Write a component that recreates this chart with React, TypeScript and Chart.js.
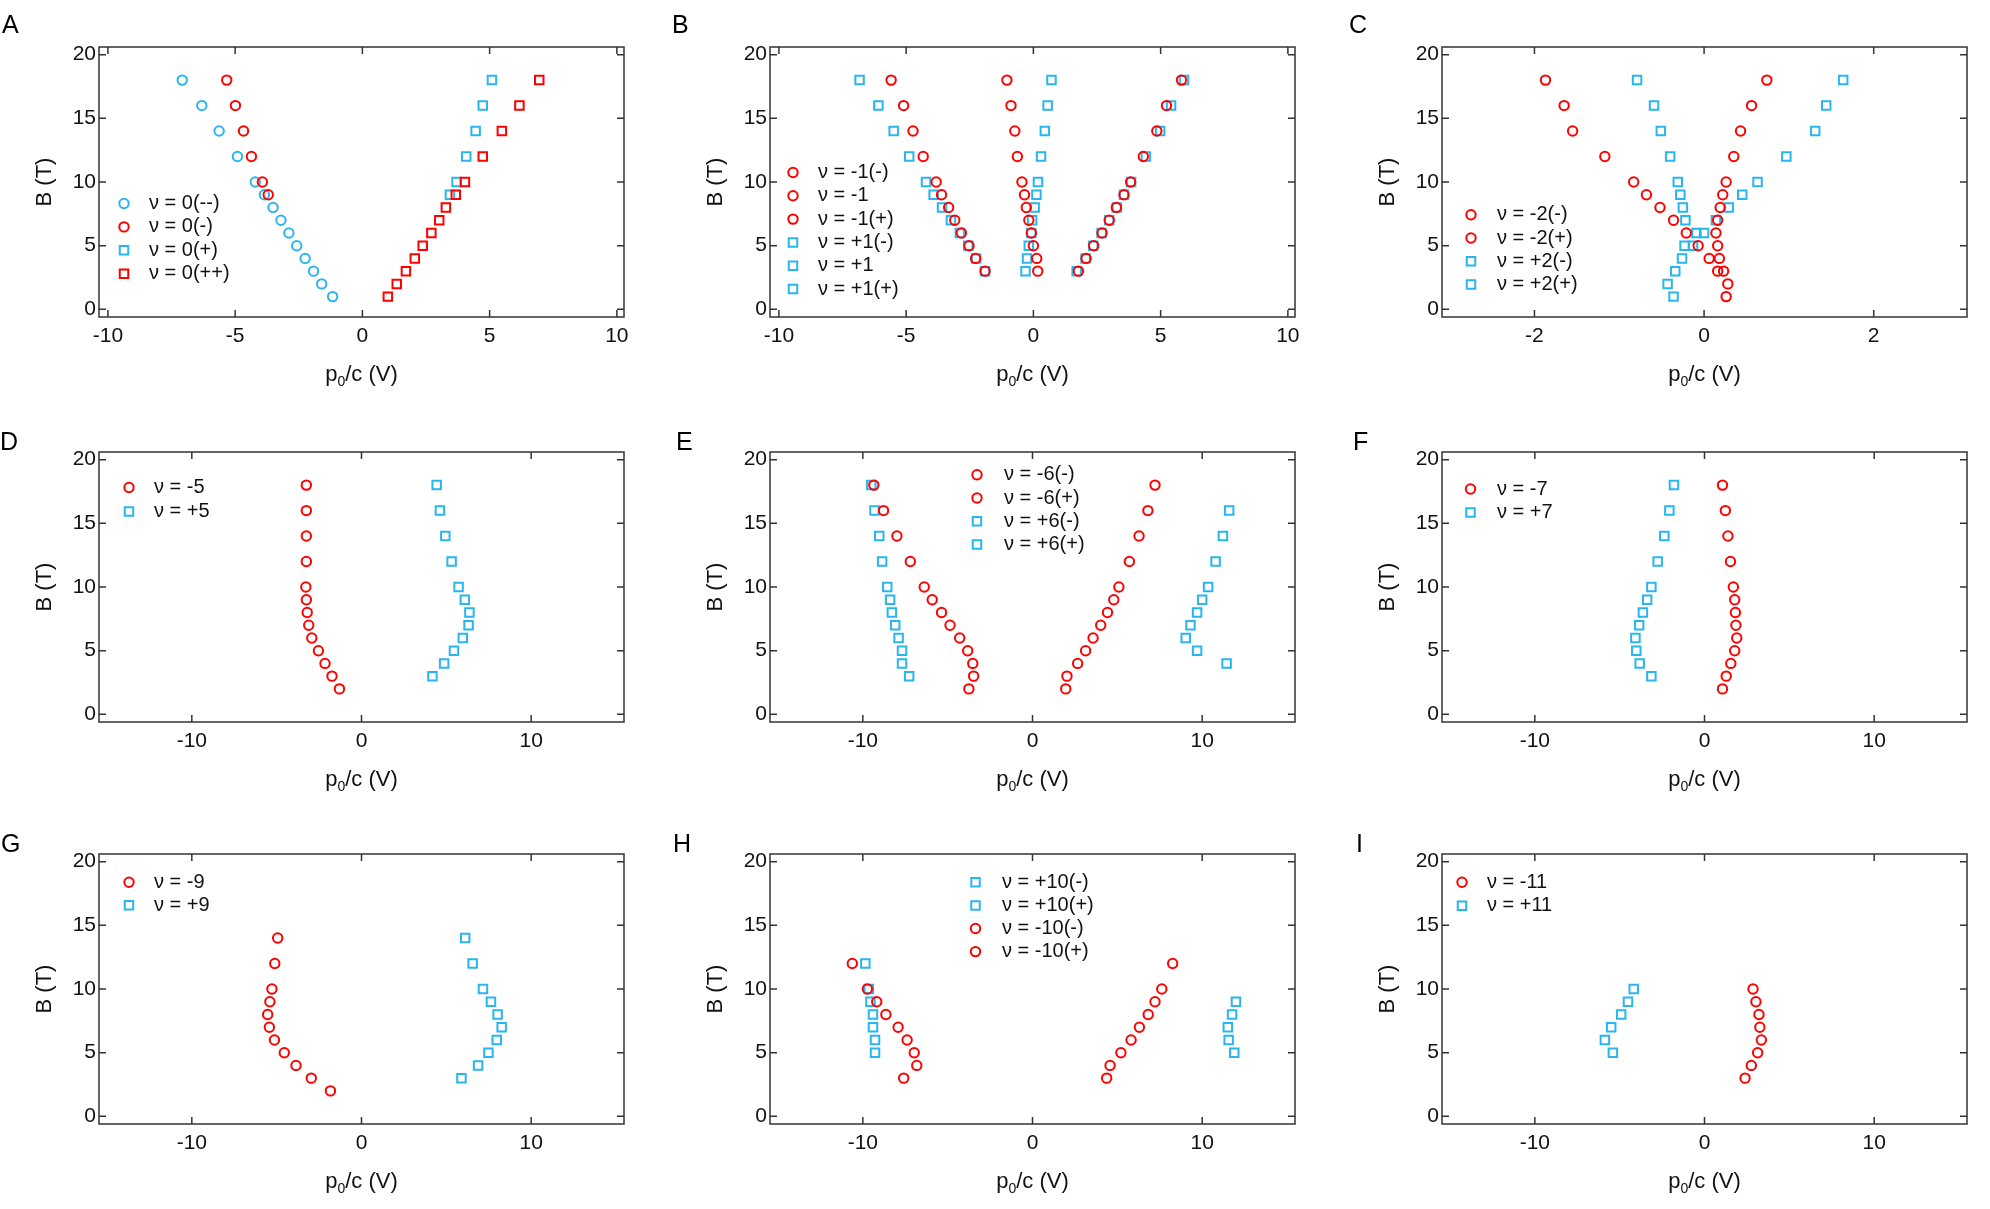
import React, { useEffect, useRef } from 'react';
import { Chart, registerables } from 'chart.js';

Chart.register(...registerables);

const RED = 'rgb(255, 0, 0)';
const BLUE = 'rgb(41, 182, 240)';
const INK = '#111';
const FRAME = '#333';
const FONT = '"Liberation Sans", Arial, Helvetica, sans-serif';

// tick values
const fieldTicks = [0, 5, 10, 15, 20];
const tenTicks = [-10, -5, 0, 5, 10];
const twoTicks = [-2, 0, 2];
const fifteenTicks = [-10, 0, 10];

// A: nu = 0 branches
const aFieldLong = [18, 16, 14, 12, 10, 9, 8, 7, 6, 5, 4, 3, 2, 1];
const aFieldShort = [18, 16, 14, 12, 10, 9];
const aNu0mm = [-7.08, -6.31, -5.63, -4.91, -4.21, -3.85, -3.51, -3.2, -2.89, -2.58, -2.25, -1.92, -1.6, -1.17];
const aNu0m = [-5.33, -4.99, -4.67, -4.36, -3.93, -3.7];
const aNu0p = [5.09, 4.73, 4.45, 4.08, 3.7, 3.44];
const aNu0pp = [6.95, 6.17, 5.48, 4.73, 4.03, 3.67, 3.28, 3.02, 2.71, 2.37, 2.06, 1.71, 1.35, 1.0];

// B: nu = -1, +1
const bField = [18, 16, 14, 12, 10, 9, 8, 7, 6, 5, 4, 3];
const bNuM1m = [-5.59, -5.1, -4.73, -4.33, -3.82, -3.61, -3.33, -3.09, -2.83, -2.53, -2.27, -1.9];
const bNuM1 = [-1.04, -0.88, -0.73, -0.63, -0.45, -0.35, -0.28, -0.18, -0.08, 0.0, 0.13, 0.17];
const bNuM1p = [5.82, 5.23, 4.85, 4.32, 3.82, 3.56, 3.26, 2.98, 2.7, 2.37, 2.07, 1.77];
const bNuP1m = [-6.83, -6.09, -5.49, -4.88, -4.22, -3.92, -3.59, -3.24, -2.89, -2.56, -2.25, -1.9];
const bNuP1 = [0.71, 0.56, 0.45, 0.3, 0.18, 0.12, 0.05, -0.05, -0.08, -0.18, -0.25, -0.31];
const bNuP1p = [5.92, 5.41, 4.98, 4.42, 3.84, 3.56, 3.28, 2.98, 2.68, 2.35, 2.05, 1.7];

// C: nu = -2, +2
const cField12 = [18, 16, 14, 12, 10, 9, 8, 7, 6, 5, 4, 3];
const cField14 = [18, 16, 14, 12, 10, 9, 8, 7, 6, 5, 4, 3, 2, 1];
const cField10 = [18, 16, 14, 12, 10, 9, 8, 7, 6, 5];
const cNuM2m = [-1.87, -1.65, -1.55, -1.17, -0.83, -0.68, -0.52, -0.36, -0.21, -0.07, 0.06, 0.16];
const cNuM2p = [0.74, 0.56, 0.43, 0.35, 0.26, 0.22, 0.19, 0.16, 0.14, 0.16, 0.18, 0.23, 0.28, 0.26];
const cNuP2m = [-0.79, -0.59, -0.51, -0.4, -0.31, -0.28, -0.25, -0.22, -0.09, -0.23, -0.26, -0.34, -0.43, -0.36];
const cNuP2p = [1.64, 1.44, 1.31, 0.97, 0.63, 0.45, 0.29, 0.14, 0.0, -0.13];

// D: nu = -5, +5
const dField13 = [18, 16, 14, 12, 10, 9, 8, 7, 6, 5, 4, 3, 2];
const dField12 = [18, 16, 14, 12, 10, 9, 8, 7, 6, 5, 4, 3];
const dNuM5 = [-3.25, -3.25, -3.25, -3.25, -3.28, -3.25, -3.2, -3.11, -2.93, -2.54, -2.15, -1.74, -1.3];
const dNuP5 = [4.43, 4.62, 4.94, 5.31, 5.72, 6.09, 6.36, 6.31, 5.97, 5.45, 4.87, 4.18];

// E: nu = -6, +6
const eField13 = [18, 16, 14, 12, 10, 9, 8, 7, 6, 5, 4, 3, 2];
const eField12 = [18, 16, 14, 12, 10, 9, 8, 7, 6, 5, 4, 3];
const eField10 = [16, 14, 12, 10, 9, 8, 7, 6, 5, 4];
const eNuM6m = [-9.35, -8.78, -7.99, -7.2, -6.38, -5.91, -5.36, -4.86, -4.29, -3.82, -3.52, -3.47, -3.75];
const eNuM6p = [7.22, 6.8, 6.28, 5.71, 5.09, 4.79, 4.42, 4.02, 3.57, 3.13, 2.66, 2.03, 1.96];
const eNuP6m = [-9.5, -9.31, -9.03, -8.86, -8.56, -8.39, -8.29, -8.09, -7.89, -7.69, -7.69, -7.27];
const eNuP6p = [11.59, 11.22, 10.79, 10.35, 10.0, 9.7, 9.31, 9.03, 9.7, 11.44];

// F: nu = -7, +7
const fField13 = [18, 16, 14, 12, 10, 9, 8, 7, 6, 5, 4, 3, 2];
const fField12 = [18, 16, 14, 12, 10, 9, 8, 7, 6, 5, 4, 3];
const fNuM7 = [1.06, 1.23, 1.38, 1.53, 1.7, 1.78, 1.82, 1.85, 1.9, 1.78, 1.55, 1.28, 1.06];
const fNuP7 = [-1.8, -2.07, -2.37, -2.76, -3.13, -3.38, -3.63, -3.85, -4.07, -4.02, -3.82, -3.13];

// G: nu = -9, +9
const gField11 = [14, 12, 10, 9, 8, 7, 6, 5, 4, 3, 2];
const gField10 = [14, 12, 10, 9, 8, 7, 6, 5, 4, 3];
const gNuM9 = [-4.94, -5.11, -5.28, -5.4, -5.53, -5.43, -5.13, -4.55, -3.86, -2.96, -1.83];
const gNuP9 = [6.11, 6.55, 7.16, 7.63, 8.02, 8.26, 7.97, 7.48, 6.87, 5.89];

// H: nu = +10, -10
const hField7 = [12, 10, 9, 8, 7, 6, 5];
const hField5 = [9, 8, 7, 6, 5];
const hField9 = [12, 10, 9, 8, 7, 6, 5, 4, 3];
const hNuP10m = [-9.85, -9.65, -9.55, -9.4, -9.4, -9.28, -9.28];
const hNuP10p = [11.99, 11.76, 11.51, 11.56, 11.89];
const hNuM10m = [-10.62, -9.73, -9.18, -8.64, -7.92, -7.39, -6.97, -6.82, -7.59];
const hNuM10p = [8.26, 7.62, 7.22, 6.82, 6.3, 5.81, 5.21, 4.57, 4.37];

// I: nu = -11, +11
const iField8 = [10, 9, 8, 7, 6, 5, 4, 3];
const iField6 = [10, 9, 8, 7, 6, 5];
const iNuM11 = [2.86, 3.03, 3.21, 3.26, 3.35, 3.13, 2.76, 2.39];
const iNuP11 = [-4.17, -4.51, -4.91, -5.5, -5.87, -5.4];

type Shape = 'circle' | 'rect';
type Series = { label: string; xs: number[]; bs: number[]; color: string; shape: Shape };
type LegendPlace = { mx: number; my: number; gap: number; tx: number };
type Panel = {
  letter: string;
  col: number;
  row: number;
  letterX: number;
  xMin: number;
  xMax: number;
  xTicks: number[];
  series: Series[];
  legend: LegendPlace;
};

const circ = (label: string, xs: number[], bs: number[], color: string): Series => ({ label, xs, bs, color, shape: 'circle' });
const sq = (label: string, xs: number[], bs: number[], color: string): Series => ({ label, xs, bs, color, shape: 'rect' });

const panels: Panel[] = [
  {
    letter: 'A', col: 0, row: 0, letterX: 2, xMin: -10.35, xMax: 10.28, xTicks: tenTicks,
    series: [
      circ('ν = 0(--)', aNu0mm, aFieldLong, BLUE),
      circ('ν = 0(-)', aNu0m, aFieldShort, RED),
      sq('ν = 0(+)', aNu0p, aFieldShort, BLUE),
      sq('ν = 0(++)', aNu0pp, aFieldLong, RED),
    ],
    legend: { mx: 25, my: 156.5, gap: 23.4, tx: 50 },
  },
  {
    letter: 'B', col: 1, row: 0, letterX: 672, xMin: -10.35, xMax: 10.28, xTicks: tenTicks,
    series: [
      circ('ν = -1(-)', bNuM1m, bField, RED),
      circ('ν = -1', bNuM1, bField, RED),
      circ('ν = -1(+)', bNuM1p, bField, RED),
      sq('ν = +1(-)', bNuP1m, bField, BLUE),
      sq('ν = +1', bNuP1, bField, BLUE),
      sq('ν = +1(+)', bNuP1p, bField, BLUE),
    ],
    legend: { mx: 23, my: 125.5, gap: 23.3, tx: 48 },
  },
  {
    letter: 'C', col: 2, row: 0, letterX: 1349, xMin: -3.09, xMax: 3.1, xTicks: twoTicks,
    series: [
      circ('ν = -2(-)', cNuM2m, cField12, RED),
      circ('ν = -2(+)', cNuM2p, cField14, RED),
      sq('ν = +2(-)', cNuP2m, cField14, BLUE),
      sq('ν = +2(+)', cNuP2p, cField10, BLUE),
    ],
    legend: { mx: 29, my: 167.7, gap: 23.3, tx: 55 },
  },
  {
    letter: 'D', col: 0, row: 1, letterX: 0, xMin: -15.47, xMax: 15.47, xTicks: fifteenTicks,
    series: [
      circ('ν = -5', dNuM5, dField13, RED),
      sq('ν = +5', dNuP5, dField12, BLUE),
    ],
    legend: { mx: 30, my: 35.5, gap: 24, tx: 55 },
  },
  {
    letter: 'E', col: 1, row: 1, letterX: 676, xMin: -15.47, xMax: 15.47, xTicks: fifteenTicks,
    series: [
      circ('ν = -6(-)', eNuM6m, eField13, RED),
      circ('ν = -6(+)', eNuM6p, eField13, RED),
      sq('ν = +6(-)', eNuP6m, eField12, BLUE),
      sq('ν = +6(+)', eNuP6p, eField10, BLUE),
    ],
    legend: { mx: 207, my: 22.7, gap: 23.3, tx: 234 },
  },
  {
    letter: 'F', col: 2, row: 1, letterX: 1353, xMin: -15.47, xMax: 15.47, xTicks: fifteenTicks,
    series: [
      circ('ν = -7', fNuM7, fField13, RED),
      sq('ν = +7', fNuP7, fField12, BLUE),
    ],
    legend: { mx: 28.5, my: 37, gap: 23.4, tx: 55 },
  },
  {
    letter: 'G', col: 0, row: 2, letterX: 1, xMin: -15.47, xMax: 15.47, xTicks: fifteenTicks,
    series: [
      circ('ν = -9', gNuM9, gField11, RED),
      sq('ν = +9', gNuP9, gField10, BLUE),
    ],
    legend: { mx: 30, my: 28.3, gap: 23, tx: 55 },
  },
  {
    letter: 'H', col: 1, row: 2, letterX: 673, xMin: -15.47, xMax: 15.47, xTicks: fifteenTicks,
    series: [
      sq('ν = +10(-)', hNuP10m, hField7, BLUE),
      sq('ν = +10(+)', hNuP10p, hField5, BLUE),
      circ('ν = -10(-)', hNuM10m, hField9, RED),
      circ('ν = -10(+)', hNuM10p, hField9, RED),
    ],
    legend: { mx: 205.5, my: 28.3, gap: 23.1, tx: 232 },
  },
  {
    letter: 'I', col: 2, row: 2, letterX: 1356, xMin: -15.47, xMax: 15.47, xTicks: fifteenTicks,
    series: [
      circ('ν = -11', iNuM11, iField8, RED),
      sq('ν = +11', iNuP11, iField6, BLUE),
    ],
    legend: { mx: 20, my: 28.3, gap: 23.4, tx: 45 },
  },
];

// page geometry of the plot boxes
const COL_LEFT = [99, 770, 1442];
const ROW_TOP = [47, 452, 854];
const LETTER_CAP_TOP = [15, 432, 834];
const PLOT_W = 525;
const PLOT_H = 270;
const PAD_L = 99;
const PAD_T = 40;
const PAD_R = 20;
const PAD_B = 80;
const TICK = 7;
const CIRCLE_R = 4.7;
const RECT_R = 6;

const panelDecor = {
  id: 'panelDecor',
  afterDraw(chart: any, _args: any, opts: any) {
    const { ctx, chartArea: a, scales } = chart;
    const xs = scales.x;
    const ys = scales.y;
    ctx.save();

    // frame with inward ticks on all four sides
    ctx.strokeStyle = FRAME;
    ctx.lineWidth = 1.5;
    ctx.strokeRect(a.left, a.top, a.right - a.left, a.bottom - a.top);
    ctx.beginPath();
    for (const t of xs.ticks) {
      const px = xs.getPixelForValue(t.value);
      ctx.moveTo(px, a.bottom);
      ctx.lineTo(px, a.bottom - TICK);
      ctx.moveTo(px, a.top);
      ctx.lineTo(px, a.top + TICK);
    }
    for (const t of ys.ticks) {
      const py = ys.getPixelForValue(t.value);
      ctx.moveTo(a.left, py);
      ctx.lineTo(a.left + TICK, py);
      ctx.moveTo(a.right, py);
      ctx.lineTo(a.right - TICK, py);
    }
    ctx.stroke();

    // axis titles
    ctx.fillStyle = INK;
    const big = `22px ${FONT}`;
    const small = `14px ${FONT}`;
    ctx.textBaseline = 'alphabetic';
    ctx.textAlign = 'left';
    ctx.font = big;
    const w1 = ctx.measureText('p').width;
    const w3 = ctx.measureText('/c (V)').width;
    ctx.font = small;
    const w2 = ctx.measureText('0').width;
    const cx = (a.left + a.right) / 2;
    const by = a.bottom + 64;
    const x0 = cx - (w1 + w2 + w3) / 2;
    ctx.font = big;
    ctx.fillText('p', x0, by);
    ctx.font = small;
    ctx.fillText('0', x0 + w1, by + 5);
    ctx.font = big;
    ctx.fillText('/c (V)', x0 + w1 + w2, by);

    ctx.save();
    ctx.translate(a.left - 54, (a.top + a.bottom) / 2);
    ctx.rotate(-Math.PI / 2);
    ctx.textAlign = 'center';
    ctx.textBaseline = 'middle';
    ctx.fillText('B (T)', 0, 0);
    ctx.restore();

    // legend inside the plot box
    ctx.font = `20px ${FONT}`;
    ctx.textAlign = 'left';
    ctx.textBaseline = 'middle';
    chart.data.datasets.forEach((ds: any, i: number) => {
      const y = a.top + opts.my + i * opts.gap;
      const mx = a.left + opts.mx;
      ctx.strokeStyle = ds.pointBorderColor;
      ctx.lineWidth = 2;
      ctx.beginPath();
      if (ds.pointStyle === 'circle') {
        ctx.arc(mx, y, CIRCLE_R, 0, Math.PI * 2);
      } else {
        const h = RECT_R * Math.SQRT1_2;
        ctx.rect(mx - h, y - h, 2 * h, 2 * h);
      }
      ctx.stroke();
      ctx.fillStyle = INK;
      ctx.fillText(ds.label, a.left + opts.tx, y);
    });

    ctx.restore();
  },
};

function PanelChart({ p }: { p: Panel }) {
  const ref = useRef<HTMLCanvasElement | null>(null);
  const width = PAD_L + PLOT_W + PAD_R;
  const height = PAD_T + PLOT_H + PAD_B;

  useEffect(() => {
    if (!ref.current) return;
    const tickFont = { family: FONT, size: 21 };
    const chart = new Chart(ref.current, {
      type: 'scatter',
      data: {
        datasets: p.series.map((s) => ({
          label: s.label,
          data: s.xs.map((x, i) => ({ x, y: s.bs[i] })),
          pointStyle: s.shape,
          pointRadius: s.shape === 'circle' ? CIRCLE_R : RECT_R,
          pointBorderWidth: 2,
          pointBorderColor: s.color,
          pointBackgroundColor: 'rgba(0,0,0,0)',
          borderColor: s.color,
          backgroundColor: 'rgba(0,0,0,0)',
          showLine: false,
          order: s.color === RED ? 0 : 1,
        })),
      },
      options: {
        responsive: false,
        animation: false,
        devicePixelRatio: 1,
        events: [],
        layout: { padding: { left: 0, top: PAD_T, right: PAD_R, bottom: 0 } },
        plugins: {
          legend: { display: false },
          tooltip: { enabled: false },
          panelDecor: p.legend,
        } as any,
        scales: {
          x: {
            type: 'linear',
            position: 'bottom',
            bounds: 'data',
            min: p.xMin,
            max: p.xMax,
            afterBuildTicks: (s: any) => {
              s.ticks = p.xTicks.map((v) => ({ value: v }));
            },
            afterFit: (s: any) => {
              s.height = PAD_B;
            },
            grid: { display: false, drawTicks: false },
            border: { display: false },
            ticks: {
              font: tickFont,
              color: INK,
              padding: 7,
              maxRotation: 0,
              autoSkip: false,
              callback: (v: any) => String(v),
            },
          },
          y: {
            type: 'linear',
            position: 'left',
            bounds: 'data',
            min: -0.6,
            max: 20.6,
            afterBuildTicks: (s: any) => {
              s.ticks = fieldTicks.map((v) => ({ value: v }));
            },
            afterFit: (s: any) => {
              s.width = PAD_L;
            },
            grid: { display: false, drawTicks: false },
            border: { display: false },
            ticks: {
              font: tickFont,
              color: INK,
              padding: 3,
              autoSkip: false,
              callback: (v: any) => String(v),
            },
          },
        },
      } as any,
      plugins: [panelDecor as any],
    });
    return () => chart.destroy();
  }, [p]);

  return (
    <canvas
      ref={ref}
      width={width}
      height={height}
      style={{
        position: 'absolute',
        left: COL_LEFT[p.col] - PAD_L,
        top: ROW_TOP[p.row] - PAD_T,
        width,
        height,
      }}
    />
  );
}

export default function App() {
  return (
    <div
      style={{
        position: 'fixed',
        left: 0,
        top: 0,
        width: 1990,
        height: 1209,
        background: '#fff',
        overflow: 'hidden',
        fontFamily: FONT,
      }}
    >
      {panels.map((p) => (
        <PanelChart key={p.letter} p={p} />
      ))}
      {panels.map((p) => (
        <div
          key={'L' + p.letter}
          style={{
            position: 'absolute',
            left: p.letterX,
            top: LETTER_CAP_TOP[p.row] - 3.3,
            fontSize: 25,
            lineHeight: '25px',
            color: '#000',
          }}
        >
          {p.letter}
        </div>
      ))}
    </div>
  );
}
